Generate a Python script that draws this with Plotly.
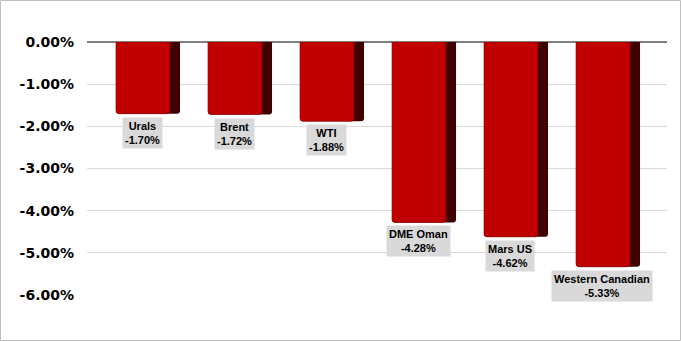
import plotly.graph_objects as go

categories = ["Urals", "Brent", "WTI", "DME Oman", "Mars US", "Western Canadian"]
values = [-1.70, -1.72, -1.88, -4.28, -4.62, -5.33]
tick_vals = [0, -1, -2, -3, -4, -5, -6]
tick_text = ["0.00%", "-1.00%", "-2.00%", "-3.00%", "-4.00%", "-5.00%", "-6.00%"]

xs = list(range(len(categories)))

fig = go.Figure()
# dark side (3D depth)
fig.add_trace(go.Bar(
    x=xs, y=values, width=0.696, offset=-0.348,
    marker=dict(color="#3f0000", line=dict(width=0), cornerradius=3),
    hoverinfo="skip", showlegend=False,
))
# front face
fig.add_trace(go.Bar(
    x=xs, y=values, width=0.587, offset=-0.348,
    marker=dict(color="#C00000", line=dict(color="#8a0000", width=0.6), cornerradius=3),
    showlegend=False,
))

for i, (c, v) in enumerate(zip(categories, values)):
    fig.add_annotation(
        x=i, y=v, xref="x", yref="y",
        text=f"<b>{c}<br>{v:.2f}%</b>",
        showarrow=False, yanchor="top", xanchor="center",
        xshift=-6, yshift=-3,
        bgcolor="#d9d9d9", borderpad=2,
        font=dict(family="Liberation Sans, Arial", size=11, color="#000000"),
    )

W, H = 681, 341
L, R, T, B = 87, 14, 42, 46
pw, ph = W - L - R, H - T - B

fig.add_shape(
    type="rect", xref="paper", yref="paper",
    x0=(0.5 - L) / pw, x1=(W - 0.5 - L) / pw,
    y0=-(B - 0.5) / ph, y1=1 + (T - 0.5) / ph,
    line=dict(color="#bfbfbf", width=1), layer="below",
)

fig.update_layout(
    width=W, height=H,
    margin=dict(l=L, r=R, t=T, b=B),
    paper_bgcolor="white", plot_bgcolor="white",
    barmode="overlay",
    xaxis=dict(range=[-0.663, 5.641], showticklabels=False, showgrid=False,
               zeroline=False, showline=False),
    yaxis=dict(range=[-6, 0], tickvals=tick_vals, ticktext=tick_text,
               showgrid=True, gridcolor="#d9d9d9", gridwidth=1,
               zeroline=True, zerolinecolor="#7f7f7f", zerolinewidth=1.5,
               showline=False, ticks="", ticklabelstandoff=12,
               tickfont=dict(family="DejaVu Sans", size=14, color="#000000", weight="bold")),
)

fig.write_html("out.html")
